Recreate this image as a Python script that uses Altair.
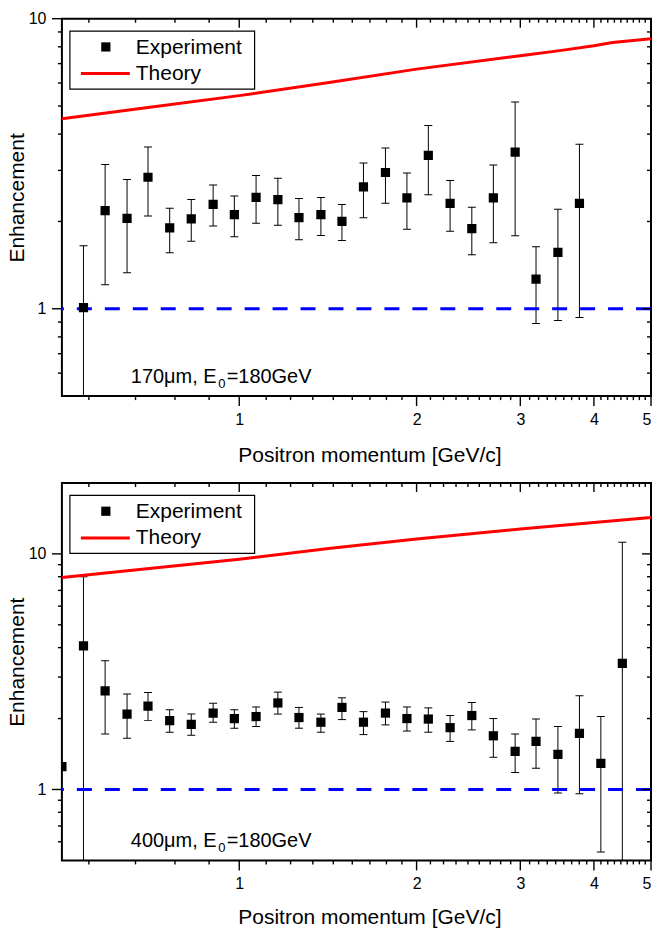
import altair as alt
import pandas as pd

# ---------------- data ----------------
mom_top = [0.544, 0.592, 0.645, 0.70, 0.762, 0.829, 0.903, 0.981, 1.068, 1.163, 1.263, 1.376,
           1.494, 1.625, 1.771, 1.926, 2.094, 2.28, 2.482, 2.70, 2.94, 3.19, 3.475, 3.78]
enh_top = [1.01, 2.18, 2.05, 2.84, 1.90, 2.04, 2.29, 2.11, 2.42, 2.38, 2.06, 2.11,
           2.00, 2.63, 2.95, 2.41, 3.38, 2.31, 1.89, 2.41, 3.47, 1.265, 1.564, 2.31]
hi_top = [1.65, 3.14, 2.79, 3.61, 2.22, 2.38, 2.67, 2.45, 2.88, 2.82, 2.40, 2.42,
          2.29, 3.18, 3.58, 2.94, 4.28, 2.77, 2.24, 3.13, 5.16, 1.636, 2.205, 3.69]
lo_top = [0.3, 1.21, 1.33, 2.09, 1.56, 1.71, 1.93, 1.77, 1.97, 1.94, 1.73, 1.79,
          1.72, 2.06, 2.31, 1.88, 2.47, 1.85, 1.535, 1.69, 1.785, 0.89, 0.911, 0.933]

mom_bot = [0.5, 0.544, 0.592, 0.645, 0.70, 0.762, 0.829, 0.903, 0.981, 1.068, 1.163, 1.263, 1.376,
           1.494, 1.625, 1.771, 1.926, 2.094, 2.28, 2.482, 2.70, 2.94, 3.19, 3.475, 3.78, 4.11, 4.47]
enh_bot = [1.25, 4.07, 2.62, 2.09, 2.26, 1.96, 1.89, 2.11, 2.00, 2.04, 2.33, 2.02, 1.93,
           2.23, 1.93, 2.11, 2.00, 1.99, 1.83, 2.06, 1.69, 1.45, 1.60, 1.41, 1.73, 1.29, 3.43]
hi_bot = [1.25, 8.0, 3.52, 2.54, 2.58, 2.18, 2.09, 2.32, 2.18, 2.24, 2.59, 2.23, 2.09,
          2.45, 2.14, 2.35, 2.24, 2.22, 2.06, 2.34, 2.00, 1.72, 1.99, 1.85, 2.50, 2.04, 11.2]
lo_bot = [1.25, 0.3, 1.72, 1.65, 1.96, 1.75, 1.70, 1.93, 1.82, 1.85, 2.09, 1.82, 1.75,
          1.98, 1.71, 1.88, 1.77, 1.75, 1.60, 1.79, 1.37, 1.18, 1.23, 0.965, 0.959, 0.543, 0.3]

theory_top_x = [0.5, 0.7, 1.0, 1.43, 2.0, 3.0, 3.5, 4.0, 4.3, 5.0]
theory_top_y = [4.52, 4.94, 5.43, 6.04, 6.70, 7.45, 7.76, 8.07, 8.28, 8.53]
theory_bot_x = [0.5, 1.0, 1.43, 2.0, 3.0, 4.0, 5.0]
theory_bot_y = [7.94, 9.49, 10.56, 11.57, 12.76, 13.6, 14.28]

ref_level = [1.0]
legend_labels = ["Experiment", "Theory"]
thickness = ["170μm", "400μm"]
energy_txt = ["E", "0", "=180GeV"]

x_major = [1, 2, 3, 4, 5]
x_minor = [round(k / 9, 4) for k in range(5, 9)] + \
          [round(i + k / 9, 4) for i in range(1, 5) for k in range(1, 9)]
y_major = [1, 10]
y_minor = [0.6, 0.7, 0.8, 0.9, 2, 3, 4, 5, 6, 7, 8, 9]

W, H = 590, 378
FONT = "Liberation Sans"


def panel(mom, enh, lo, hi, tx, ty, ydom, thick, title_y):
    xs = alt.Scale(type="log", domain=[0.5, 5], nice=False)
    ys = alt.Scale(type="log", domain=ydom, nice=False)
    pts = pd.DataFrame({"p": mom, "e": enh, "lo": lo, "hi": hi})
    theo = pd.DataFrame({"p": tx, "t": ty})

    xaxis = alt.Axis(values=x_major, format="d", ticks=False, tickSize=0, domain=False, grid=False,
                     labelFontSize=16, labelPadding=28, labelBaseline="alphabetic", labelColor="black",
                     labelFont=FONT,
                     title="Positron momentum [GeV/c]", titleFontSize=21, titleFontWeight="normal",
                     titleFont=FONT, titleColor="black",
                     titleX=308, titleY=title_y, titleBaseline="alphabetic", titleAlign="center")
    yaxis = alt.Axis(values=y_major, format="d", ticks=False, tickSize=0, domain=False, grid=False,
                     labelFontSize=16, labelPadding=16, labelColor="black", labelFont=FONT,
                     title="Enhancement", titleFontSize=21, titleFontWeight="normal",
                     titleFont=FONT, titleColor="black",
                     titleX=-44, titleY=179, titleAngle=-90, titleBaseline="middle", titleAlign="center")

    def X(f):
        return alt.X(f, scale=xs, axis=xaxis)

    def Y(f):
        return alt.Y(f, scale=ys, axis=yaxis)

    err = alt.Chart(pts).mark_rule(color="black", strokeWidth=1, clip=True).encode(
        x=X("p:Q"), y=Y("lo:Q"), y2="hi:Q")
    cap_hi = alt.Chart(pts).mark_tick(orient="horizontal", size=8, thickness=1, color="black",
                                      opacity=1, clip=True).encode(x=X("p:Q"), y=Y("hi:Q"))
    cap_lo = alt.Chart(pts).mark_tick(orient="horizontal", size=8, thickness=1, color="black",
                                      opacity=1, clip=True).encode(x=X("p:Q"), y=Y("lo:Q"))
    ref = alt.Chart(pd.DataFrame({"v": ref_level})).mark_rule(
        color="#0000ff", strokeWidth=3, strokeDash=[15, 13]).encode(y=Y("v:Q"))
    sq = alt.Chart(pts).mark_square(size=85, color="black", opacity=1, clip=True).encode(
        x=X("p:Q"), y=Y("e:Q"))
    line = alt.Chart(theo).mark_line(color="#ff0000", strokeWidth=3, clip=True).encode(
        x=X("p:Q"), y=Y("t:Q"))

    one = pd.DataFrame({"k": [0]})
    leg_box = alt.Chart(one).mark_rect(fill="white", stroke="black", strokeWidth=1.2).encode(
        x=alt.value(8), x2=alt.value(193), y=alt.value(12.5), y2=alt.value(70.5))
    leg_sq = alt.Chart(one).mark_square(size=85, color="black", opacity=1).encode(
        x=alt.value(44), y=alt.value(28.3))
    leg_line = alt.Chart(one).mark_rule(color="#ff0000", strokeWidth=3).encode(
        x=alt.value(19), x2=alt.value(68), y=alt.value(55))
    leg_t1 = alt.Chart(pd.DataFrame({"t": [legend_labels[0]]})).mark_text(
        align="left", baseline="alphabetic", fontSize=21, font=FONT, color="black").encode(
        x=alt.value(74), y=alt.value(35.5), text="t:N")
    leg_t2 = alt.Chart(pd.DataFrame({"t": [legend_labels[1]]})).mark_text(
        align="left", baseline="alphabetic", fontSize=21, font=FONT, color="black").encode(
        x=alt.value(74), y=alt.value(61.5), text="t:N")

    note1 = alt.Chart(pd.DataFrame({"t": [thick + ", " + energy_txt[0]]})).mark_text(
        align="left", baseline="alphabetic", fontSize=20, font=FONT, color="black").encode(
        x=alt.value(69), y=alt.value(364.5), text="t:N")
    note2 = alt.Chart(pd.DataFrame({"t": [energy_txt[1]]})).mark_text(
        align="left", baseline="alphabetic", fontSize=13, font=FONT, color="black").encode(
        x=alt.value(156.5), y=alt.value(370), text="t:N")
    note3 = alt.Chart(pd.DataFrame({"t": [energy_txt[2]]})).mark_text(
        align="left", baseline="alphabetic", fontSize=20, font=FONT, color="black").encode(
        x=alt.value(165), y=alt.value(364.5), text="t:N")

    tick_layers = []
    for vals, lout, lin in [(x_major, 10, 9), (x_minor, 4, 4)]:
        df = pd.DataFrame({"v": vals})
        tick_layers.append(alt.Chart(df).mark_rule(color="black", strokeWidth=1.4).encode(
            x=X("v:Q"), y=alt.value(H), y2=alt.value(H + lout)))
        tick_layers.append(alt.Chart(df).mark_rule(color="black", strokeWidth=1.4).encode(
            x=X("v:Q"), y=alt.value(0), y2=alt.value(lin)))
    for vals, lout, lin in [(y_major, 10, 9), (y_minor, 4, 4)]:
        df = pd.DataFrame({"v": vals})
        tick_layers.append(alt.Chart(df).mark_rule(color="black", strokeWidth=1.4).encode(
            y=Y("v:Q"), x=alt.value(0), x2=alt.value(-lout)))
        tick_layers.append(alt.Chart(df).mark_rule(color="black", strokeWidth=1.4).encode(
            y=Y("v:Q"), x=alt.value(W), x2=alt.value(W - lin)))

    return alt.layer(err, cap_hi, cap_lo, ref, sq, line, leg_box, leg_sq, leg_line, leg_t1, leg_t2,
                     note1, note2, note3, *tick_layers).properties(width=W, height=H)


top = panel(mom_top, enh_top, lo_top, hi_top, theory_top_x, theory_top_y, [0.5, 10], thickness[0], 65)
bot = panel(mom_bot, enh_bot, lo_bot, hi_bot, theory_bot_x, theory_bot_y, [0.5, 20], thickness[1], 63)

chart = alt.vconcat(top, bot, spacing=15).properties(
    padding={"left": 6, "top": 9, "right": 0, "bottom": 0},
    background="white",
).configure(font=FONT).configure_view(stroke="black", strokeWidth=2)

chart.save("out.html", embed_options={"renderer": "svg", "actions": False})
